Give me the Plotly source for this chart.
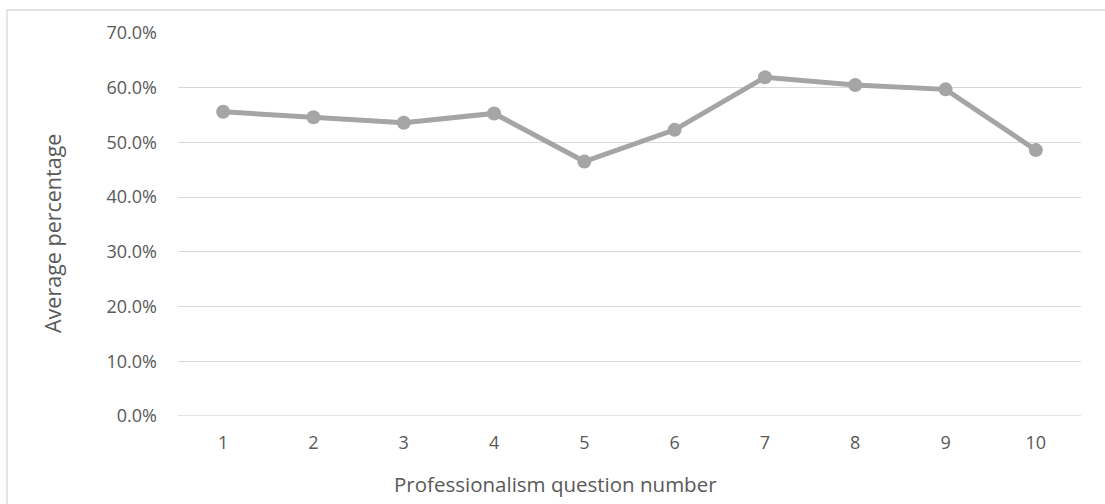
import plotly.graph_objects as go

# Professionalism survey: average percentage per question
questions = ["1", "2", "3", "4", "5", "6", "7", "8", "9", "10"]
avg_pct = [0.556, 0.546, 0.536, 0.553, 0.465, 0.523, 0.619, 0.605, 0.597, 0.486]
y_ticks = [0.0, 0.1, 0.2, 0.3, 0.4, 0.5, 0.6, 0.7]

W, H = 1105, 504
L, R, T, B = 178, 24, 33, 88
pw, ph = W - L - R, H - T - B

text_col = "#595959"
grid_col = "#D9D9D9"
line_col = "#A5A5A5"
font_family = "Open Sans, sans-serif"

fig = go.Figure()
fig.add_trace(go.Scatter(
    x=questions, y=avg_pct, mode="lines+markers",
    line=dict(color=line_col, width=5),
    marker=dict(color=line_col, size=14),
    hoverinfo="skip", showlegend=False,
))

fig.update_layout(
    width=W, height=H,
    margin=dict(l=L, r=R, t=T, b=B),
    paper_bgcolor="white", plot_bgcolor="white",
    font=dict(family=font_family, color=text_col, size=18),
    xaxis=dict(
        type="category", range=[-0.5, 9.5],
        showgrid=False, zeroline=False, showline=False,
        ticks="", ticklabelstandoff=14,
        tickfont=dict(size=18, color=text_col),
    ),
    yaxis=dict(
        range=[0, 0.7], tickvals=y_ticks, tickformat=".1%",
        showgrid=True, gridcolor=grid_col, gridwidth=1.3,
        zeroline=False, showline=False, ticks="",
        ticklabelstandoff=20,
        tickfont=dict(size=18, color=text_col),
    ),
    shapes=[
        # outer chart frame
        dict(type="rect", xref="paper", yref="paper",
             x0=(7 - L) / pw, x1=(W + 10 - L) / pw,
             y0=-(H + 10 - T - ph) / ph, y1=(ph + T - 10) / ph,
             line=dict(color=grid_col, width=1.3), layer="below"),
        # baseline gridline at 0%
        dict(type="line", xref="paper", yref="y", x0=0, x1=1, y0=0, y1=0,
             line=dict(color=grid_col, width=1.3), layer="below"),
    ],
    annotations=[
        dict(text="Average percentage", xref="paper", yref="paper",
             x=(52 - L) / pw, y=(T + ph - 234) / ph, textangle=-90,
             showarrow=False, xanchor="center", yanchor="middle",
             font=dict(size=21.5, color=text_col)),
        dict(text="Professionalism question number", xref="paper", yref="paper",
             x=(555 - L) / pw, y=-(484 - T - ph) / ph,
             showarrow=False, xanchor="center", yanchor="middle",
             font=dict(size=20.5, color=text_col)),
    ],
)

fig.write_html("out.html")
